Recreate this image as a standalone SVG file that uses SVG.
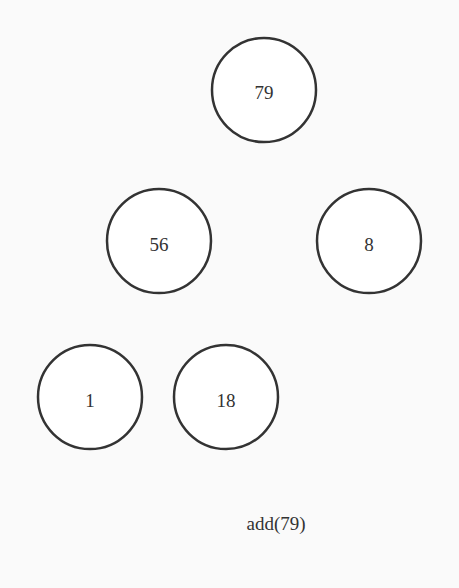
<svg xmlns="http://www.w3.org/2000/svg" width="459" height="588" viewBox="0 0 459 588">
<style>
.n circle{fill:#ffffff;stroke:#333333;stroke-width:2.5}
text{font-family:"Liberation Serif","DejaVu Serif",serif;font-size:19px;fill:#333333;text-anchor:middle}
</style>
<rect width="459" height="588" fill="#fafafa"/>
<g id="connectors"></g>
<g id="n79" class="n"><circle cx="264" cy="90" r="52"/><text x="264" y="99">79</text></g>
<g id="n56" class="n"><circle cx="159" cy="241" r="52"/><text x="159" y="251">56</text></g>
<g id="n8" class="n"><circle cx="369" cy="241" r="52"/><text x="369" y="251">8</text></g>
<g id="n1" class="n"><circle cx="90" cy="397" r="52"/><text x="90" y="407">1</text></g>
<g id="n18" class="n"><circle cx="226" cy="397" r="52"/><text x="226" y="407">18</text></g>
<text id="label" x="276" y="530">add(79)</text>
</svg>
